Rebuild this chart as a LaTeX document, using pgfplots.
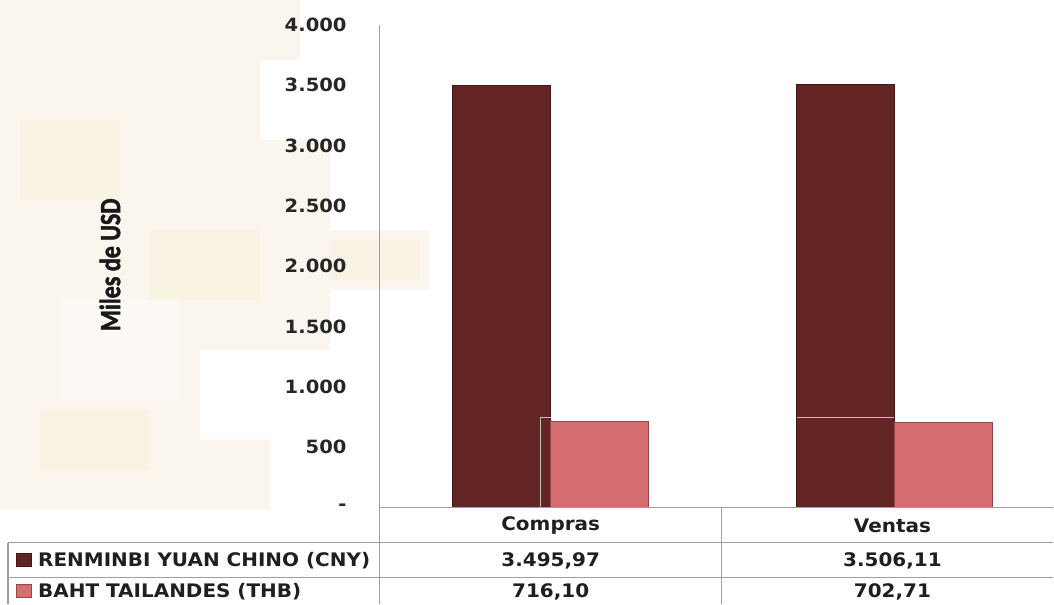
\documentclass[border=0pt]{standalone}
\usepackage{fontspec}
\setmainfont{DejaVu Sans}
\newfontfamily\verd[FakeStretch=1.07]{DejaVu Sans}
\newfontfamily\carlito[FakeStretch=0.82, FakeBold=1.6]{Carlito Bold}
\usepackage{pgfplots}
\pgfplotsset{compat=1.18}
\definecolor{cny}{RGB}{99,37,35}
\definecolor{cnyedge}{RGB}{70,22,22}
\definecolor{thb}{RGB}{212,110,112}
\definecolor{thbedge}{RGB}{150,70,72}
\definecolor{grid}{RGB}{158,158,162}
\definecolor{bgA}{RGB}{247,239,227}
\definecolor{bgB}{RGB}{250,242,218}
\begin{document}
\begin{tikzpicture}
\begin{scope}[x=0.75pt,y=-0.75pt,yshift=453pt]
\path[use as bounding box] (0,0) rectangle (1054,604);
% faint background texture
\fill[bgA,opacity=0.65] (0,0) -- (300,0) -- (300,60) -- (260,60) -- (260,140) -- (330,140) -- (330,230) -- (430,230) -- (430,290) -- (330,290) -- (330,350) -- (200,350) -- (200,440) -- (270,440) -- (270,510) -- (0,510) -- cycle;
\fill[bgB,opacity=0.5] (20,120) rectangle (120,200);
\fill[bgB,opacity=0.5] (150,230) rectangle (260,300);
\fill[bgB,opacity=0.5] (40,410) rectangle (150,470);
\fill[bgB,opacity=0.4] (330,240) rectangle (420,280);
\fill[white,opacity=0.5] (60,300) rectangle (180,400);
\end{scope}

\begin{axis}[
  at={(285pt,72pt)}, anchor=south west, scale only axis,
  width=505.5pt, height=362.25pt,
  xmin=-0.497, xmax=1.462, ymin=0, ymax=4000,
  ybar=0pt, bar width=73.5pt,
  separate axis lines,
  axis x line*=bottom, axis y line*=left,
  every outer x axis line/.append style={draw=none},
  every outer y axis line/.append style={draw=grid, line width=1pt},
  xtick=\empty,
  ytick={0,500,1000,1500,2000,2500,3000,3500,4000},
  yticklabels={-,500,1.000,1.500,2.000,2.500,3.000,3.500,4.000},
  major tick length=0pt,
  yticklabel style={font=\verd\fontsize{13.7}{15}\selectfont\bfseries, text=black!85, anchor=east, inner sep=0pt, xshift=-24.75pt},
  clip=false,
]
\addplot[fill=cny, draw=cnyedge, line width=0.8pt] coordinates {(0,3495.97) (1,3506.11)};
\addplot[fill=thb, draw=thbedge, line width=0.8pt] coordinates {(0,716.10) (1,702.71)};
\end{axis}

\begin{scope}[x=0.75pt,y=-0.75pt,yshift=453pt]
% artifacts lines
\draw[black!25, line width=0.5pt] (541,508) -- (541,418) -- (551,418);
\draw[black!25, line width=0.5pt] (797,418) -- (895,418);
% y label
\node[rotate=90, font=\carlito\fontsize{22}{24}\selectfont, text=black!90] at (110,265) {Miles de USD};
% table lines
\begin{scope}[draw=grid, line width=1pt]
\draw (380,508) -- (1054,508);
\draw (380,508) -- (380,604);
\draw (722,508) -- (722,604);
\draw (8,543) -- (1054,543);
\draw (8,578) -- (1054,578);
\draw (8,543) -- (8,604);
\end{scope}
% table text
\begin{scope}[every node/.style={font=\verd\fontsize{14}{16}\selectfont\bfseries, text=black!88, inner sep=0pt}]
\node at (551,526) {Compras};
\node at (893,526) {Ventas};
\node at (551,561) {3.495,97};
\node at (893,561) {3.506,11};
\node at (551,592) {716,10};
\node at (893,592) {702,71};
\node[anchor=west] at (38,561) {RENMINBI YUAN CHINO (CNY)};
\node[anchor=west] at (38,592) {BAHT TAILANDES (THB)};
\end{scope}
\fill[cny, draw=cnyedge, line width=0.5pt] (16,554) rectangle (31,567);
\fill[thb, draw=thbedge, line width=0.5pt] (16,585) rectangle (31,598);
\end{scope}
\end{tikzpicture}
\end{document}
